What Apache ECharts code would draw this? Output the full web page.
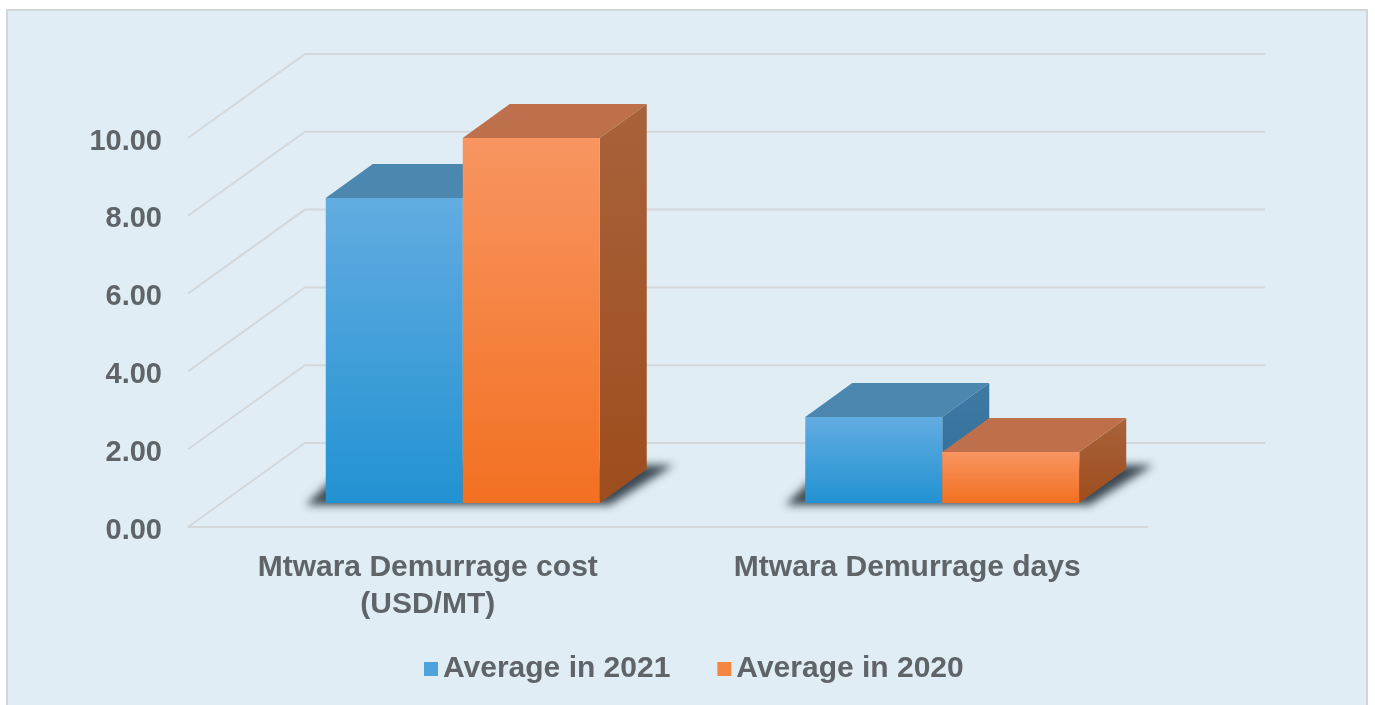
<!DOCTYPE html>
<html>
<head>
<meta charset="utf-8">
<script src="https://cdn.jsdelivr.net/npm/echarts@6/dist/echarts.min.js"></script>
<style>
    html, body { margin: 0; padding: 0; background: #fff; }
    #main { width: 1375px; height: 705px; }
</style>
</head>
<body>
<div id="main"></div>
<script>
var categories = ['Mtwara Demurrage cost\n(USD/MT)', 'Mtwara Demurrage days'];
var avg2021 = [7.84, 2.21];
var avg2020 = [9.38, 1.31];
var yTicks = [0, 2, 4, 6, 8, 10];

var fontName = '"Liberation Sans", Arial, sans-serif';
var textColor = '#5f6468';
var gridColor = '#d3d8da';
var wallX = 117, wallY = -84;     // back wall offset
var frontX = 35, frontY = -24;    // bars stand this far in from the front edge
var barW = 137;
var depthX = 47, depthY = -34;    // bar depth
var offscreen = 3000;             // shadow shape sits off canvas, only its blur shows

function grad(top, bottom) {
    return new echarts.graphic.LinearGradient(0, 0, 0, 1, [
        { offset: 0, color: top },
        { offset: 1, color: bottom }
    ]);
}

// wall lines and left side lines
function renderWall(params, api) {
    var cs = params.coordSys;
    var p = api.coord([0, api.value(0)]);
    var y = p[1];
    return {
        type: 'polyline',
        shape: { points: [[cs.x, y], [cs.x + wallX, y + wallY], [cs.x + cs.width + wallX + 1, y + wallY]] },
        style: { stroke: gridColor, lineWidth: 2, fill: null },
        silent: true
    };
}

// dark floor shadow under each pair of bars
function renderShadow(params, api) {
    var c = api.coord([api.value(0), 0]);
    var x0 = c[0] + frontX - barW, x1 = c[0] + frontX + barW, b = c[1] + frontY;
    return {
        type: 'polygon',
        x: -offscreen,
        shape: { points: [[x0 - 20, b + 2], [x1 + 10, b + 2], [x1 + 74, b - 38], [x0 + 22, b - 38]] },
        style: { fill: '#000', shadowBlur: 8, shadowColor: 'rgba(52,64,74,0.95)', shadowOffsetX: offscreen },
        silent: true
    };
}

function makeBar(side, colors) {
    return function (params, api) {
        var cat = api.value(0);
        var top = api.coord([cat, api.value(1)]);
        var base = api.coord([cat, 0]);
        var mid = top[0] + frontX;
        var x0 = side < 0 ? mid - barW : mid;
        var x1 = x0 + barW;
        var yt = top[1] + frontY, yb = base[1] + frontY;
        return {
            type: 'group',
            children: [
                {
                    type: 'polygon',
                    shape: { points: [[x1, yt], [x1 + depthX, yt + depthY], [x1 + depthX, yb + depthY], [x1, yb]] },
                    style: { fill: grad(colors.side1, colors.side2) }
                },
                {
                    type: 'polygon',
                    shape: { points: [[x0, yt], [x0 + depthX, yt + depthY], [x1 + depthX, yt + depthY], [x1, yt]] },
                    style: { fill: colors.top }
                },
                {
                    type: 'rect',
                    shape: { x: x0, y: yt, width: barW, height: yb - yt },
                    style: { fill: grad(colors.front1, colors.front2) }
                }
            ]
        };
    };
}

var blue = { front1: '#62ace1', front2: '#2292d2', top: '#4b87ae', side1: '#3f7aa3', side2: '#2f6c98' };
var orange = { front1: '#f89561', front2: '#f27021', top: '#bd704b', side1: '#a8623b', side2: '#9e4d1d' };

var myChart = echarts.init(document.getElementById('main'));
myChart.setOption({
    animation: false,
    backgroundColor: '#fff',
    textStyle: { fontFamily: fontName },
    graphic: [{
        type: 'rect',
        z: -10,
        shape: { x: 7, y: 10, width: 1360, height: 710 },
        style: { fill: '#e0edf5', stroke: '#d0d6d9', lineWidth: 2 }
    }],
    grid: { left: 188, right: 228, top: 138, bottom: 178 },
    legend: {
        left: 419,
        top: 649,
        itemWidth: 14,
        itemHeight: 14,
        itemGap: 47,
        icon: 'rect',
        data: ['Average in 2021', 'Average in 2020'],
        textStyle: { color: textColor, fontSize: 30, fontWeight: 'bold', fontFamily: fontName }
    },
    xAxis: {
        type: 'category',
        data: categories,
        axisTick: { show: false },
        axisLine: { lineStyle: { color: gridColor, width: 2 } },
        axisLabel: { margin: 22, color: textColor, fontSize: 30, fontWeight: 'bold', lineHeight: 37, fontFamily: fontName }
    },
    yAxis: {
        type: 'value',
        min: 0,
        max: 10,
        interval: 2,
        axisLine: { show: false },
        axisTick: { show: false },
        splitLine: { show: false },
        axisLabel: {
            margin: 26,
            color: textColor,
            fontSize: 29,
            fontWeight: 'bold',
            fontFamily: fontName,
            verticalAlign: 'top',
            lineHeight: 7,
            formatter: function (v) { return v.toFixed(2); }
        }
    },
    series: [
        { type: 'custom', name: 'wall', renderItem: renderWall, data: yTicks.map(function (v) { return [v]; }), encode: { y: 0 }, z: 1, silent: true },
        { type: 'custom', name: 'shadow', renderItem: renderShadow, data: categories.map(function (c, i) { return [i]; }), encode: { x: 0 }, z: 2, silent: true },
        {
            type: 'custom', name: 'Average in 2021', renderItem: makeBar(-1, blue), z: 3,
            itemStyle: { color: '#4fa3dc' },
            data: avg2021.map(function (v, i) { return [i, v]; }), encode: { x: 0, y: 1 }
        },
        {
            type: 'custom', name: 'Average in 2020', renderItem: makeBar(1, orange), z: 4,
            itemStyle: { color: '#f58543' },
            data: avg2020.map(function (v, i) { return [i, v]; }), encode: { x: 0, y: 1 }
        }
    ]
});
</script>
</body>
</html>
